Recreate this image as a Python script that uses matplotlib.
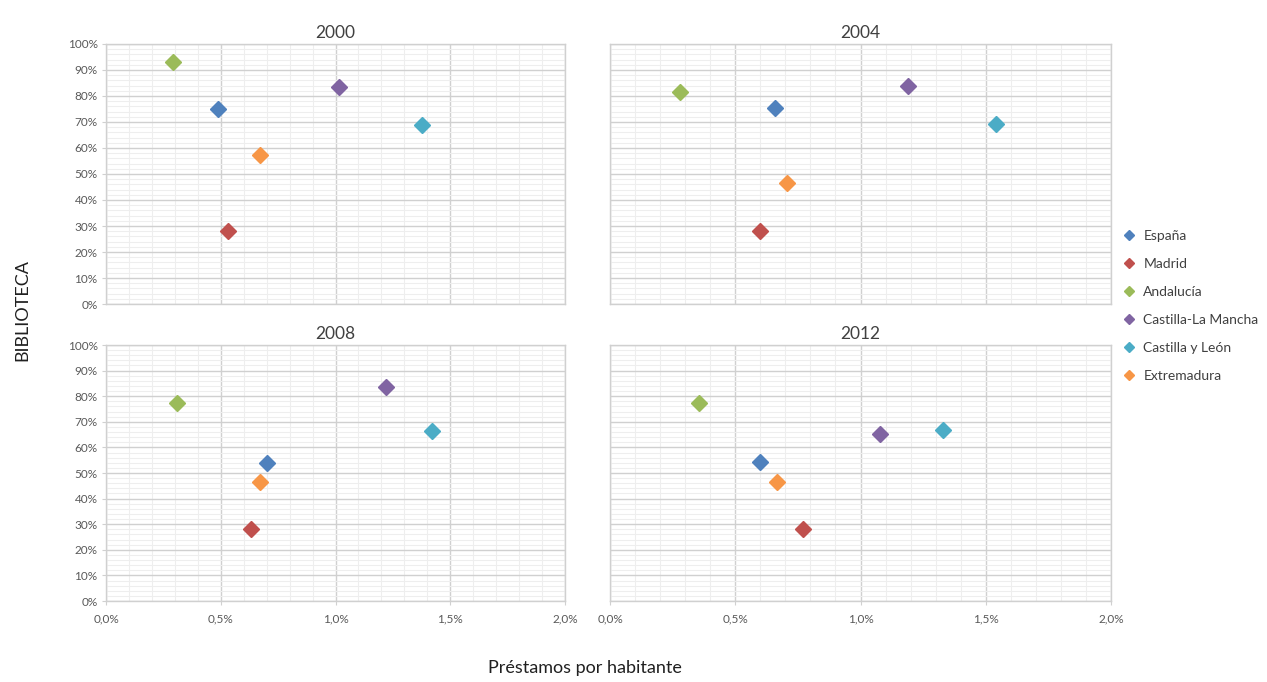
import matplotlib
matplotlib.use("Agg")
import matplotlib.pyplot as plt
from matplotlib.ticker import MultipleLocator, FuncFormatter
from matplotlib.lines import Line2D

plt.rcParams["font.family"] = ["Lato", "DejaVu Sans"]

# Data: préstamos por habitante (%) and biblioteca (%) per region and year
regions = ["España", "Madrid", "Andalucía", "Castilla-La Mancha",
           "Castilla y León", "Extremadura"]
colors = ["#4F81BD", "#C0504D", "#9BBB59", "#8064A2", "#4BACC6", "#F79646"]
years = ["2000", "2004", "2008", "2012"]

x_2000 = [0.490, 0.531, 0.293, 1.017, 1.377, 0.671]
y_2000 = [75.0, 28.0, 93.1, 83.5, 68.9, 57.2]
x_2004 = [0.658, 0.598, 0.280, 1.189, 1.539, 0.707]
y_2004 = [75.2, 27.9, 81.4, 83.8, 69.1, 46.4]
x_2008 = [0.702, 0.630, 0.311, 1.221, 1.420, 0.672]
y_2008 = [53.9, 28.0, 77.5, 83.6, 66.5, 46.4]
x_2012 = [0.597, 0.769, 0.357, 1.077, 1.328, 0.668]
y_2012 = [54.2, 28.0, 77.5, 65.1, 66.8, 46.4]

xs = [x_2000, x_2004, x_2008, x_2012]
ys = [y_2000, y_2004, y_2008, y_2012]

GRID_MAJOR = "#D0D0D0"
GRID_MINOR = "#EEEEEE"
TICK_COLOR = "#595959"
TEXT_COLOR = "#404040"

W, H = 1267, 682
fig = plt.figure(figsize=(W / 100, H / 100), dpi=100)


def box(x0, x1, y0, y1):
    return [x0 / W, 1 - y1 / H, (x1 - x0) / W, (y1 - y0) / H]


rects = [box(106, 565, 44, 304), box(610, 1111, 44, 304),
         box(106, 565, 345, 601), box(610, 1111, 345, 601)]

for i, (rect, year) in enumerate(zip(rects, years)):
    ax = fig.add_axes(rect)
    ax.set_xlim(0, 2.0)
    ax.set_ylim(0, 100)
    ax.xaxis.set_major_locator(MultipleLocator(0.5))
    ax.xaxis.set_minor_locator(MultipleLocator(0.1))
    ax.yaxis.set_major_locator(MultipleLocator(10))
    ax.yaxis.set_minor_locator(MultipleLocator(2))
    ax.grid(which="major", color=GRID_MAJOR, linewidth=1.0)
    ax.grid(which="minor", color=GRID_MINOR, linewidth=0.8)
    ax.set_axisbelow(True)
    for spine in ax.spines.values():
        spine.set_color(GRID_MAJOR)
        spine.set_linewidth(1.0)
    ax.tick_params(which="minor", length=0)
    ax.tick_params(which="major", length=3, color=GRID_MAJOR, colors=TICK_COLOR,
                   labelsize=8.5)
    ax.tick_params(axis="x", which="major", pad=6)
    ax.tick_params(axis="y", which="major", pad=3)
    ax.xaxis.set_major_formatter(FuncFormatter(lambda v, p: f"{v:.1f}%".replace(".", ",")))
    ax.yaxis.set_major_formatter(FuncFormatter(lambda v, p: f"{v:.0f}%"))
    if i < 2:
        ax.tick_params(axis="x", which="major", length=0, labelbottom=False)
    if i % 2 == 1:
        ax.tick_params(axis="y", which="major", length=0, labelleft=False)

    for xv, yv, c in zip(xs[i], ys[i], colors):
        ax.plot(xv, yv, marker="D", markersize=8.5, color=c,
                markeredgecolor=c, linestyle="none", zorder=3)

    ax.set_title(year, color=TEXT_COLOR, fontsize=12.5, pad=4)

handles = [Line2D([], [], marker="D", linestyle="none", markersize=5,
                  color=c) for c in colors]
fig.legend(handles, regions, loc="center left", bbox_to_anchor=(1110 / W, 1 - 306 / H),
           frameon=False, fontsize=10, labelcolor=TEXT_COLOR,
           handletextpad=0.5, labelspacing=1.15, handlelength=1.0)

fig.text(22 / W, 1 - 310 / H, "BIBLIOTECA", rotation=90, ha="center", va="center",
         fontsize=13, color="#202020")
fig.text(585 / W, 1 - 668 / H, "Préstamos por habitante", ha="center", va="center",
         fontsize=13, color="#202020")

fig.savefig("out.png", dpi=100, facecolor="white")
